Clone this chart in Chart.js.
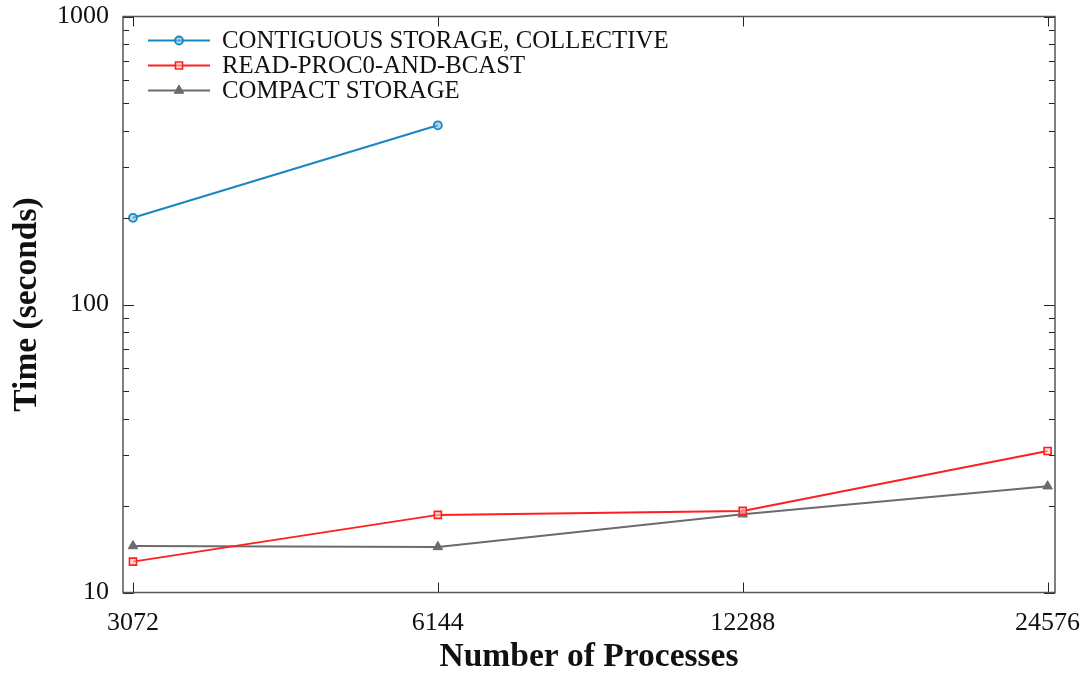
<!DOCTYPE html>
<html>
<head>
<meta charset="utf-8">
<script src="https://cdn.jsdelivr.net/npm/chart.js@4.4.0/dist/chart.umd.min.js"></script>
<style>
  html, body { margin: 0; padding: 0; background: #fff; }
  #wrap { width: 1091px; height: 675px; }
</style>
</head>
<body>
<div id="wrap"><canvas id="c" width="1091" height="675"></canvas></div>
<script>
// Process counts on the x axis
const processes = [3072, 6144, 12288, 24576];
// Run times in seconds
const contiguousCollective = [200, 419, null, null];
const readProc0Bcast = [12.8, 18.6, 19.2, 31.0];
const compactStorage = [14.5, 14.4, 18.7, 23.4];
// Decade labels on the time axis
const timeTicks = [10, 100, 1000];

const seriesNames = ['CONTIGUOUS STORAGE, COLLECTIVE', 'READ-PROC0-AND-BCAST', 'COMPACT STORAGE'];
const colors = ['#1b87c2', '#ff1f1f', '#6b6b6b'];

const serif = '"Liberation Serif", "Times New Roman", serif';

function toPoints(vals) {
  return processes.map((p, i) => ({ x: p, y: vals[i] }));
}

// Inward tick marks on all four sides plus the frame
const framePlugin = {
  id: 'frame',
  afterDraw(chart) {
    const { ctx, chartArea: a, scales } = chart;
    const ys = scales.y, xs = scales.x;
    ctx.save();
    ctx.strokeStyle = '#222';
    ctx.lineWidth = 1;
    const marks = [];
    for (let d = 10; d < 1000; d *= 10) {
      for (let m = 1; m < 10; m++) marks.push({ v: d * m, major: m === 1 });
    }
    marks.push({ v: 1000, major: true });
    marks.forEach(t => {
      const y = Math.round(ys.getPixelForValue(t.v)) + 0.5;
      const len = t.major ? 11 : 6;
      ctx.beginPath();
      ctx.moveTo(a.left, y); ctx.lineTo(a.left + len, y);
      ctx.moveTo(a.right, y); ctx.lineTo(a.right - len, y);
      ctx.stroke();
    });
    processes.forEach(p => {
      const x = Math.round(xs.getPixelForValue(p)) + 0.5;
      ctx.beginPath();
      ctx.moveTo(x, a.bottom); ctx.lineTo(x, a.bottom - 10);
      ctx.moveTo(x, a.top); ctx.lineTo(x, a.top + 10);
      ctx.stroke();
    });
    ctx.strokeStyle = '#555';
    ctx.lineWidth = 1.5;
    ctx.strokeRect(a.left, a.top, a.right - a.left, a.bottom - a.top);
    ctx.restore();
  }
};

// Legend inside the plot, top-left: line sample with marker, then label
const legendPlugin = {
  id: 'inlineLegend',
  afterDraw(chart) {
    const { ctx, chartArea: a } = chart;
    ctx.save();
    ctx.font = '24.8px ' + serif;
    ctx.textBaseline = 'middle';
    chart.data.datasets.forEach((ds, i) => {
      const y = a.top + 24 + i * 25;
      const x0 = a.left + 25, x1 = a.left + 87, xm = (x0 + x1) / 2;
      ctx.strokeStyle = ds.borderColor;
      ctx.lineWidth = 2;
      ctx.beginPath(); ctx.moveTo(x0, y); ctx.lineTo(x1, y); ctx.stroke();
      ctx.fillStyle = ds.pointBackgroundColor;
      ctx.lineWidth = ds.pointBorderWidth;
      Chart.helpers.drawPoint(ctx, {
        pointStyle: ds.pointStyle, radius: ds.pointRadius, borderWidth: ds.pointBorderWidth, rotation: 0
      }, xm, y);
      ctx.fillStyle = '#111';
      ctx.fillText(seriesNames[i], a.left + 99, y + 1);
    });
    ctx.restore();
  }
};

new Chart(document.getElementById('c'), {
  type: 'line',
  data: {
    datasets: [
      {
        label: seriesNames[0], data: toPoints(contiguousCollective),
        borderColor: colors[0], pointBackgroundColor: 'rgba(120,190,230,0.6)',
        pointStyle: 'circle', pointRadius: 4, pointBorderWidth: 1.8, borderWidth: 2.2, spanGaps: false
      },
      {
        label: seriesNames[1], data: toPoints(readProc0Bcast),
        borderColor: colors[1], pointBackgroundColor: 'rgba(255,200,200,0.6)',
        pointStyle: 'rect', pointRadius: 5, pointBorderWidth: 1.6, borderWidth: 2
      },
      {
        label: seriesNames[2], data: toPoints(compactStorage),
        borderColor: colors[2], pointBackgroundColor: colors[2],
        pointStyle: 'triangle', pointRadius: 5.5, pointBorderWidth: 1, borderWidth: 2
      }
    ]
  },
  options: {
    responsive: false,
    animation: false,
    devicePixelRatio: 1,
    layout: { padding: { top: 16.5, right: 36, bottom: 0, left: 0 } },
    plugins: { legend: { display: false }, tooltip: { enabled: false } },
    elements: { line: { tension: 0 } },
    scales: {
      x: {
        type: 'logarithmic',
        min: 3003, max: 24993,
        grid: { display: false, drawTicks: false },
        border: { display: false },
        afterBuildTicks(scale) { scale.ticks = processes.map(v => ({ value: v })); },
        afterFit(scale) { scale.height = 82.5; scale.paddingLeft = 0; scale.paddingRight = 0; },
        ticks: {
          autoSkip: false, maxRotation: 0, padding: 15, color: '#111',
          font: { family: serif, size: 26 },
          callback: v => String(v)
        },
        title: {
          display: true, text: 'Number of Processes', color: '#111',
          font: { family: serif, size: 33.5, weight: 'bold', lineHeight: 1.05 },
          padding: { top: 0, bottom: 0 }
        }
      },
      y: {
        type: 'logarithmic',
        min: 10, max: 1000,
        grid: { display: false, drawTicks: false },
        border: { display: false },
        afterBuildTicks(scale) { scale.ticks = timeTicks.map(v => ({ value: v })); },
        afterFit(scale) { scale.width = 123; scale.paddingTop = 0; scale.paddingBottom = 0; },
        ticks: {
          padding: 14, color: '#111',
          font: { family: serif, size: 26 },
          callback: v => String(v)
        },
        title: {
          display: true, text: 'Time (seconds)', color: '#111',
          font: { family: serif, size: 33.5, weight: 'bold', lineHeight: 1.05 },
          padding: { top: 9.5, bottom: 0 }
        }
      }
    }
  },
  plugins: [framePlugin, legendPlugin]
});
</script>
</body>
</html>
